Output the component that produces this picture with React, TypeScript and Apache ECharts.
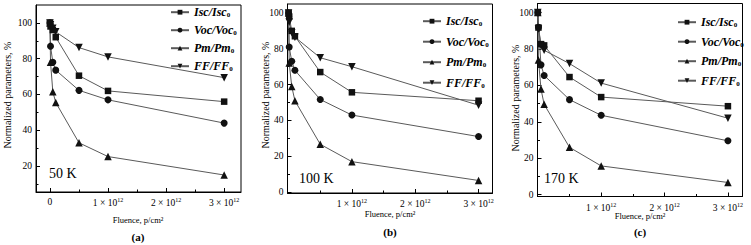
import React, { useEffect, useRef } from 'react';
import * as echarts from 'echarts';

// ---------- data (fluence in units of 1e12 p/cm^2, values in %) ----------
const fluence = [0, 0.01, 0.05, 0.1, 0.5, 1, 3];
const seriesNames = ['Isc/Isc0', 'Voc/Voc0', 'Pm/Pm0', 'FF/FF0'];

const isc50 = [100, 98, 96, 92, 70.5, 62, 56];
const voc50 = [100, 87, 78, 73.6, 62.3, 57, 44];
const pm50 = [100, 78, 61.5, 55.5, 33, 25.3, 15];
const ff50 = [100, 99, 97, 95, 86.2, 81, 69.4];

const isc100 = [100, 98, 90, 87, 67, 55.7, 51];
const voc100 = [100, 81, 73, 68, 51.7, 43, 31];
const pm100 = [100, 72, 59, 51, 26.7, 17, 6.5];
const ff100 = [100, 95, 89, 86.5, 75, 70, 48.5];

const isc170 = [100, 91.8, 82.7, 82, 64.6, 53.6, 48.6];
const voc170 = [100, 92, 71.3, 65.5, 52.2, 43.6, 29.6];
const pm170 = [100, 74, 58, 49.6, 26, 15.8, 6.7];
const ff170 = [100, 91, 82, 79.3, 72, 61.3, 42];

const temperatures = ['50 K', '100 K', '170 K'];
const panelLetters = ['(a)', '(b)', '(c)'];
const xTickMajorA = [0, 1, 2, 3];
const xTickMajorBC = [1, 2, 3];
const xTickMinor = [0.5, 1.5, 2.5];
const yTickMajorA = [20, 40, 60, 80, 100];
const yTickMajorBC = [0, 20, 40, 60, 80, 100];
const yTickMinor = [10, 30, 50, 70, 90];

// ---------- layout / style ----------
const FONT = 'Liberation Serif, serif';
const symbols = ['rect', 'circle', 'triangle', 'path://M0,0L10,0L5,9Z'];
const symbolSizes = [6.5, 7, 7.5, 7.5];

const panelData = [
  [isc50, voc50, pm50, ff50],
  [isc100, voc100, pm100, ff100],
  [isc170, voc170, pm170, ff170],
];

const layouts = [
  {
    grid: { left: 36, top: 5, width: 205, height: 187 },
    x: [-0.24, 3.29], y: [5.5, 110], xMajor: xTickMajorA, yMajor: yTickMajorA,
    legend: { left: 170, firstCenter: 12.7, spacing: 18.5 },
    temp: { x: 49, y: 173 }, fluenceY: 220, letterY: 237, yName: { x: 7, y: 95 }, xCenter: 138,
  },
  {
    grid: { left: 287.5, top: 4, width: 205, height: 189 },
    x: [-0.017, 3.22], y: [-0.5, 105], xMajor: xTickMajorBC, yMajor: yTickMajorBC,
    legend: { left: 422, firstCenter: 21.7, spacing: 21 },
    temp: { x: 299, y: 178 }, fluenceY: 214, letterY: 232, yName: { x: 265, y: 95 }, xCenter: 390,
  },
  {
    grid: { left: 537.5, top: 3.5, width: 205, height: 193 },
    x: [-0.005, 3.23], y: [-1, 105], xMajor: xTickMajorBC, yMajor: yTickMajorBC,
    legend: { left: 677, firstCenter: 22.7, spacing: 20 },
    temp: { x: 544, y: 178 }, fluenceY: 216, letterY: 232, yName: { x: 515, y: 98 }, xCenter: 640,
  },
];

function buildOption() {
  const grid: any[] = [];
  const xAxis: any[] = [];
  const yAxis: any[] = [];
  const series: any[] = [];
  const legend: any[] = [];
  const graphic: any[] = [];

  layouts.forEach((L, p) => {
    grid.push({ ...L.grid, show: true, borderColor: '#000', borderWidth: 1, backgroundColor: 'transparent' });
    const xMajorIdx = xAxis.length;
    xAxis.push({
      type: 'value', gridIndex: p, min: L.x[0], max: L.x[1], position: 'bottom',
      axisLine: { show: true, onZero: false, lineStyle: { color: '#000', width: 1 } },
      axisTick: { show: true, inside: true, length: 4, customValues: L.xMajor, lineStyle: { color: '#000' } },
      axisLabel: {
        show: true, customValues: L.xMajor, margin: 5, color: '#000',
        formatter: (v: number) => (v === 0 ? '{a|0}' : `{a|${v} × 10}{s|12}`),
        rich: {
          a: { fontFamily: FONT, fontSize: 9.5, color: '#000' },
          s: { fontFamily: FONT, fontSize: 6, color: '#000', padding: [0, 0, 6, 0] },
        },
      },
      splitLine: { show: false },
    });
    xAxis.push({
      type: 'value', gridIndex: p, min: L.x[0], max: L.x[1], position: 'bottom',
      axisLine: { show: false, onZero: false },
      axisTick: { show: true, inside: true, length: 2.5, customValues: xTickMinor, lineStyle: { color: '#000' } },
      axisLabel: { show: false },
      splitLine: { show: false },
    });
    const yMajorIdx = yAxis.length;
    yAxis.push({
      type: 'value', gridIndex: p, min: L.y[0], max: L.y[1], position: 'left',
      axisLine: { show: true, onZero: false, lineStyle: { color: '#000', width: 1 } },
      axisTick: { show: true, inside: true, length: 4, customValues: L.yMajor, lineStyle: { color: '#000' } },
      axisLabel: { show: true, customValues: L.yMajor, margin: 4, color: '#000', fontFamily: FONT, fontSize: 9.5 },
      splitLine: { show: false },
    });
    yAxis.push({
      type: 'value', gridIndex: p, min: L.y[0], max: L.y[1], position: 'left',
      axisLine: { show: false, onZero: false },
      axisTick: { show: true, inside: true, length: 2.5, customValues: yTickMinor, lineStyle: { color: '#000' } },
      axisLabel: { show: false },
      splitLine: { show: false },
    });

    seriesNames.forEach((name, k) => {
      series.push({
        type: 'line', name, xAxisIndex: xMajorIdx, yAxisIndex: yMajorIdx,
        data: fluence.map((f, i) => [f, panelData[p][k][i]]),
        symbol: symbols[k], symbolSize: symbolSizes[k], showAllSymbol: true,
        lineStyle: { color: '#5a5a5a', width: 1 },
        itemStyle: { color: '#111' },
        clip: false,
      });
    });

    const itemH = 13;
    legend.push({
      orient: 'vertical', left: L.legend.left, top: L.legend.firstCenter - itemH / 2,
      padding: 0, itemGap: L.legend.spacing - itemH, itemWidth: 18, itemHeight: 6,
      selectedMode: false, data: seriesNames,
      formatter: (n: string) => `{n|${n.slice(0, -1)}}{s|0}`,
      textStyle: {
        color: '#000',
        rich: {
          n: { fontFamily: FONT, fontSize: 12, fontStyle: 'italic', fontWeight: 'bold', color: '#000' },
          s: { fontFamily: FONT, fontSize: 7, fontWeight: 'bold', color: '#000', padding: [6, 0, 0, 0] },
        },
      },
    });

    graphic.push(
      { type: 'text', x: L.temp.x, y: L.temp.y, style: { text: temperatures[p], fontFamily: FONT, fontSize: 14, fill: '#000', verticalAlign: 'middle', align: 'left' } },
      { type: 'text', x: L.xCenter, y: L.fluenceY, style: { text: 'Fluence, p/cm²', fontFamily: FONT, fontSize: 8.5, fill: '#000', verticalAlign: 'middle', align: 'center' } },
      { type: 'text', x: L.xCenter, y: L.letterY, style: { text: panelLetters[p], fontFamily: FONT, fontWeight: 'bold', fontSize: 11, fill: '#000', verticalAlign: 'middle', align: 'center' } },
      { type: 'text', x: L.yName.x, y: L.yName.y, rotation: Math.PI / 2, style: { text: 'Normalized parameters, %', fontFamily: FONT, fontSize: 10, fill: '#000', verticalAlign: 'middle', align: 'center' } },
    );
  });

  return { animation: false, backgroundColor: '#fff', grid, xAxis, yAxis, series, legend, graphic };
}

export default function App() {
  const ref = useRef<HTMLDivElement>(null);
  useEffect(() => {
    if (!ref.current) return;
    const chart = echarts.init(ref.current, null, { renderer: 'svg' });
    chart.setOption(buildOption() as any);
    return () => chart.dispose();
  }, []);
  return <div ref={ref} style={{ position: 'fixed', left: 0, top: 0, width: 751, height: 245, background: '#fff' }} />;
}
